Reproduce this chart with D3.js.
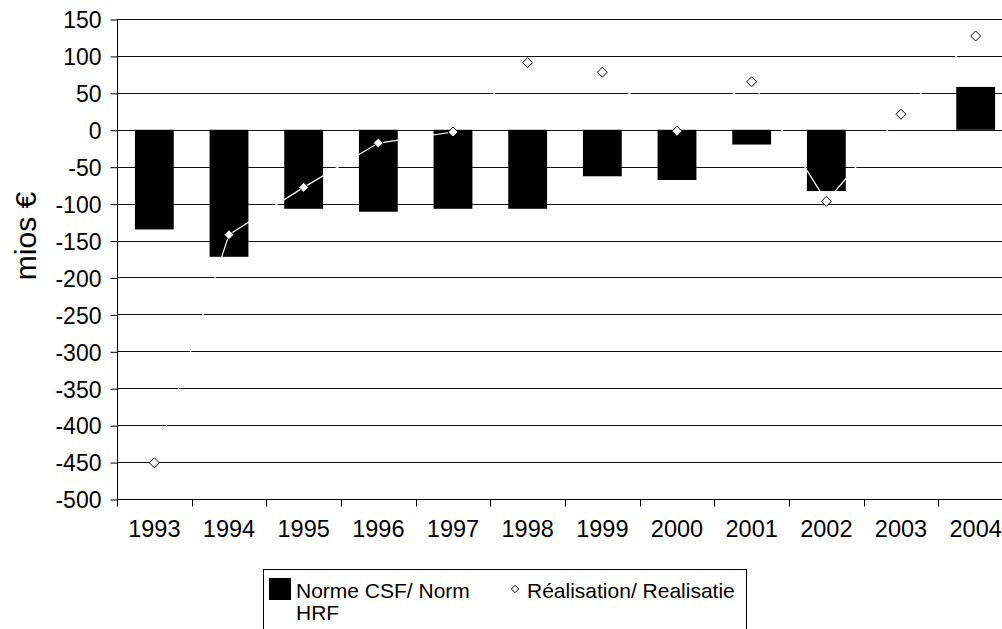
<!DOCTYPE html>
<html>
<head>
<meta charset="utf-8">
<script src="https://cdn.jsdelivr.net/npm/d3@7"></script>
<style>
  html, body { margin: 0; padding: 0; background: #fff; }
  svg { display: block; font-family: "Liberation Sans", Arial, sans-serif; }
</style>
</head>
<body>
<svg id="chart" width="1002" height="629"></svg>
<script>
const years = ['1993','1994','1995','1996','1997','1998','1999','2000','2001','2002','2003','2004'];
const normValues = [-135, -172, -107, -111, -107, -107, -63, -68, -20, -83, 0, 58];
const realValues = [-451, -142, -78, -18, -3, 91, 78, -2, 65, -97, 21, 127];
const yTicks = [150, 100, 50, 0, -50, -100, -150, -200, -250, -300, -350, -400, -450, -500];
const yLabel = 'mios €';
const legendNorm = ['Norme CSF/ Norm', 'HRF'];
const legendReal = 'Réalisation/ Realisatie';

(function () {
const svg = d3.select('#chart');
const pLeft = 117, pRight = 1013, pTop = 19, pBottom = 499;

const x = d3.scaleBand().domain(years).range([pLeft, pRight]).paddingInner(0.48).paddingOuter(0.24);
const xb = d3.scaleBand().domain(years).range([pLeft, pRight]).padding(0);
const y = d3.scaleLinear().domain([-500, 150]).range([pBottom, pTop]);

// gridlines
svg.append('g').selectAll('line').data(yTicks).join('line')
  .attr('x1', pLeft).attr('x2', pRight)
  .attr('y1', d => Math.round(y(d)) + 0.5).attr('y2', d => Math.round(y(d)) + 0.5)
  .attr('stroke', '#111').attr('stroke-width', 1);

// bars
svg.append('g').selectAll('rect').data(years).join('rect')
  .attr('x', d => x(d))
  .attr('width', x.bandwidth())
  .attr('y', (d, i) => y(Math.max(0, normValues[i])))
  .attr('height', (d, i) => Math.abs(y(normValues[i]) - y(0)))
  .attr('fill', '#000');

// realisation line (white)
const line = d3.line().x((d, i) => xb(years[i]) + xb.bandwidth() / 2).y(d => y(d));
svg.append('path').datum(realValues).attr('d', line)
  .attr('fill', 'none').attr('stroke', '#fff').attr('stroke-width', 1.2);

// diamonds
const diamond = r => `M0,${-r}L${r},0L0,${r}L${-r},0Z`;
svg.append('g').selectAll('path').data(realValues).join('path')
  .attr('transform', (d, i) => `translate(${xb(years[i]) + xb.bandwidth() / 2},${y(d)})`)
  .attr('d', diamond(5))
  .attr('fill', '#fff').attr('stroke', '#000').attr('stroke-width', 1);

// y axis
const yAxis = d3.axisLeft(y).tickValues(yTicks).tickSize(7).tickPadding(9).tickFormat(d => String(d));
const gy = svg.append('g').attr('transform', `translate(${pLeft + 0.5},0.5)`).call(yAxis);
gy.select('.domain').attr('stroke', '#000').attr('d', `M0,${pTop - 0.5}V${pBottom}`);
gy.selectAll('.tick line').attr('stroke', '#000');
gy.selectAll('.tick text').attr('font-size', 23).attr('fill', '#000')
  .attr('font-family', '"Liberation Sans", Arial, sans-serif').attr('dy', '0.36em');

// x axis
const gx = svg.append('g').attr('transform', `translate(0,${pBottom + 0.5})`);
gx.append('line').attr('x1', pLeft).attr('x2', pRight).attr('stroke', '#000');
const xEdges = years.map(d => xb(d)).concat([pRight]);
gx.selectAll('line.tk').data(xEdges).join('line').attr('class', 'tk')
  .attr('x1', d => Math.round(d) + 0.5).attr('x2', d => Math.round(d) + 0.5)
  .attr('y1', 0).attr('y2', 7).attr('stroke', '#000');
gx.selectAll('text').data(years).join('text')
  .attr('x', d => xb(d) + xb.bandwidth() / 2)
  .attr('y', 37.5)
  .attr('text-anchor', 'middle')
  .attr('font-size', 23.5).attr('fill', '#000')
  .text(d => d);

// y label
svg.append('text')
  .attr('transform', 'translate(36,236) rotate(-90)')
  .attr('text-anchor', 'middle')
  .attr('font-size', 30).attr('fill', '#000')
  .text(yLabel);

// legend
const lg = svg.append('g');
lg.append('rect').attr('x', 263.5).attr('y', 569.5).attr('width', 483).attr('height', 90)
  .attr('fill', '#fff').attr('stroke', '#000').attr('stroke-width', 1);
lg.append('rect').attr('x', 269).attr('y', 578).attr('width', 22).attr('height', 22).attr('fill', '#000');
lg.append('text').attr('x', 296).attr('y', 598).attr('font-size', 21).attr('fill', '#000')
  .selectAll('tspan').data(legendNorm).join('tspan')
  .attr('x', 296).attr('dy', (d, i) => i === 0 ? 0 : 22).text(d => d);
lg.append('path').attr('transform', 'translate(515,589)').attr('d', diamond(3.7))
  .attr('fill', '#fff').attr('stroke', '#000').attr('stroke-width', 1);
lg.append('text').attr('x', 527).attr('y', 598).attr('font-size', 21).attr('fill', '#000').text(legendReal);
})();
</script>
</body>
</html>
